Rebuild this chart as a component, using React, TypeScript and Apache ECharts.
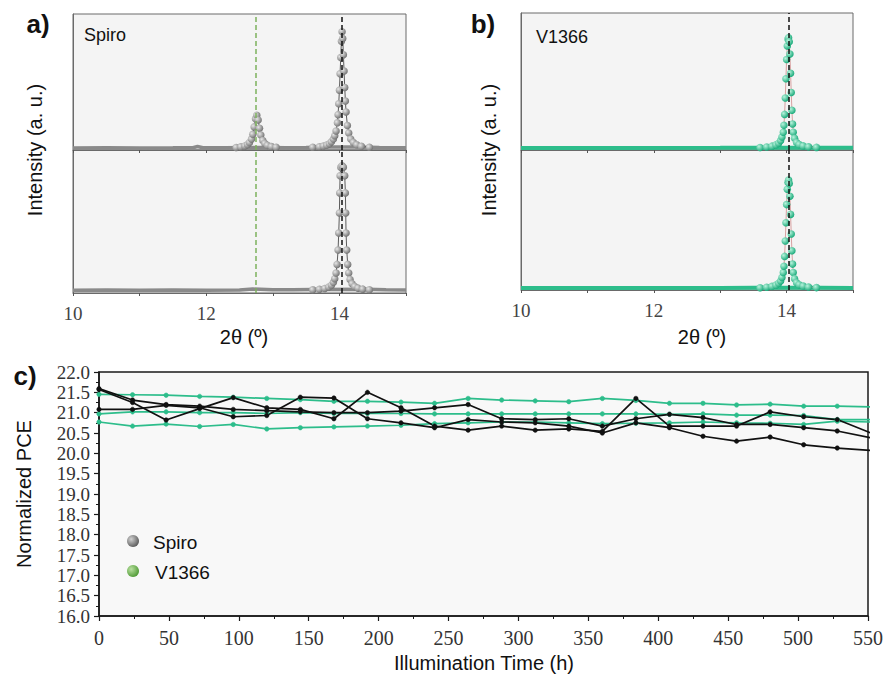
import React, { useEffect, useRef } from "react";
import * as echarts from "echarts";

// ---------- Panel c data ----------
const hours = [0, 24, 48, 72, 96, 120, 144, 168, 192, 216, 240, 264, 288, 312, 336, 360, 384, 408, 432, 456, 480, 504, 528, 552];
const spiro1 = [21.59, 21.31, 21.2, 21.16, 21.08, 21.05, 21.02, 21.0, 21.0, 21.04, 21.12, 21.2, 20.85, 20.83, 20.85, 20.67, 20.85, 20.96, 20.88, 20.71, 20.71, 20.63, 20.55, 20.38];
const spiro2 = [21.57, 21.25, 20.82, 21.1, 21.37, 21.12, 21.08, 20.85, 21.5, 21.12, 20.67, 20.57, 20.67, 20.57, 20.6, 20.54, 21.35, 20.67, 20.67, 20.67, 21.02, 20.9, 20.83, 20.5];
const spiro3 = [21.08, 21.08, 21.18, 21.12, 20.9, 20.93, 21.38, 21.36, 20.85, 20.75, 20.63, 20.83, 20.77, 20.75, 20.67, 20.5, 20.75, 20.63, 20.42, 20.3, 20.4, 20.21, 20.13, 20.07];
const v1 = [21.45, 21.44, 21.43, 21.4, 21.38, 21.35, 21.32, 21.28, 21.28, 21.26, 21.23, 21.35, 21.31, 21.29, 21.27, 21.35, 21.3, 21.23, 21.23, 21.19, 21.21, 21.16, 21.16, 21.14];
const v2 = [20.97, 21.02, 21.02, 21.0, 21.0, 20.98, 21.0, 20.98, 20.98, 20.98, 20.97, 20.97, 20.97, 20.97, 20.97, 20.97, 20.97, 20.96, 20.97, 20.94, 20.94, 20.93, 20.83, 20.83];
const v3 = [20.77, 20.67, 20.72, 20.66, 20.71, 20.6, 20.63, 20.65, 20.67, 20.69, 20.73, 20.75, 20.77, 20.77, 20.75, 20.73, 20.74, 20.75, 20.77, 20.75, 20.74, 20.71, 20.79, 20.77];

// ---------- XRD data (2θ, intensity a.u.) ----------
const aTopBaseX = [10, 10.5, 11, 11.5, 11.8, 11.87, 11.95, 12.3, 12.6, 12.9, 13.2, 13.5, 13.8, 14.3, 14.6, 15];
const aTopBaseY = [1.5, 1.6, 1.5, 1.6, 1.7, 2.6, 1.7, 1.6, 1.8, 1.8, 1.7, 1.8, 2.2, 2.2, 1.8, 1.7];
const aTopSmallX = [12.45, 12.52, 12.58, 12.62, 12.65, 12.68, 12.7, 12.72, 12.74, 12.76, 12.78, 12.8, 12.82, 12.85, 12.88, 12.92, 12.98, 13.05];
const aTopSmallY = [1.8, 2.3, 3, 4, 5.5, 8, 11.5, 17, 23, 25.5, 22, 16, 11, 7, 4.8, 3.4, 2.5, 2];
const aTopPeakX = [13.6, 13.7, 13.76, 13.81, 13.85, 13.88, 13.91, 13.93, 13.95, 13.97, 13.98, 13.99, 14.0, 14.01, 14.02, 14.03, 14.04, 14.05, 14.06, 14.07, 14.08, 14.09, 14.1, 14.12, 14.14, 14.17, 14.21, 14.26, 14.33, 14.45];
const aTopPeakY = [2, 2.4, 2.9, 3.6, 4.6, 6, 8, 10.5, 14, 20, 26, 34, 44, 56, 68, 80, 87, 82, 70, 58, 46, 36, 28, 18, 12.5, 8, 5.5, 3.8, 2.7, 2];
const aBotBaseX = [10, 10.5, 11, 11.5, 12, 12.5, 12.7, 13, 13.3, 13.6, 14.4, 14.7, 15];
const aBotBaseY = [2, 2.1, 2, 2.1, 2, 2.1, 2.8, 2.2, 2.3, 2.4, 2.6, 2.2, 2.1];
const aBotPeakX = [13.6, 13.7, 13.78, 13.84, 13.88, 13.91, 13.93, 13.95, 13.965, 13.98, 13.99, 14.0, 14.005, 14.01, 14.02, 14.04, 14.06, 14.08, 14.09, 14.095, 14.1, 14.11, 14.125, 14.14, 14.16, 14.19, 14.23, 14.28, 14.35, 14.45];
const aBotPeakY = [2.2, 2.6, 3.2, 4.2, 5.5, 7.5, 10, 14, 20, 30, 42, 56, 70, 82, 88, 89, 88, 82, 70, 56, 42, 30, 20, 14, 9.5, 6.5, 4.5, 3.4, 2.7, 2.3];
const bBaseX = [10, 11, 12, 13, 13.5, 14.5, 15];
const bTopBaseY = [1.5, 1.5, 1.5, 1.6, 1.7, 1.7, 1.6];
const bBotBaseY = [1.4, 1.4, 1.5, 1.5, 1.6, 1.6, 1.5];
const bPeakX = [13.6, 13.7, 13.78, 13.84, 13.88, 13.91, 13.93, 13.95, 13.96, 13.97, 13.98, 13.99, 14.0, 14.01, 14.02, 14.03, 14.04, 14.05, 14.06, 14.07, 14.08, 14.09, 14.1, 14.12, 14.15, 14.19, 14.25, 14.33, 14.45];
const bTopPeakY = [1.8, 2.2, 2.8, 3.8, 5, 7, 9.5, 13, 18, 26, 38, 52, 66, 76, 81, 82, 79, 70, 56, 42, 29, 19, 13, 8.5, 5.5, 4, 3, 2.3, 1.9];
const bBotPeakY = [1.6, 2.0, 2.6, 3.5, 4.8, 6.5, 9, 12.5, 17, 24, 35, 48, 61, 72, 77, 78.5, 76, 67, 54, 40, 28, 18.5, 12.5, 8, 5.2, 3.8, 2.8, 2.1, 1.7];

const spiroDash = 12.75;
const peakDashA = 14.04;
const peakDashB = 14.03;
const xrdTicks = ["10", "12", "14"];

const zip = (xs: number[], ys: number[]) => xs.map((x, i) => [x, ys[i]]);

const GRAY = "#8a8a8a";
const GREEN = "#2dbd8b";
const grayBall = {
  type: "radial", x: 0.35, y: 0.35, r: 0.7,
  colorStops: [{ offset: 0, color: "#e6e6e6" }, { offset: 1, color: "#6e6e6e" }],
};
const greenBall = {
  type: "radial", x: 0.35, y: 0.35, r: 0.7,
  colorStops: [{ offset: 0, color: "#b8f3dc" }, { offset: 1, color: "#14a877" }],
};
const legendGray = {
  type: "radial", x: 0.35, y: 0.35, r: 0.7,
  colorStops: [{ offset: 0, color: "#d0d0d0" }, { offset: 1, color: "#5a5a5a" }],
};
const legendGreen = {
  type: "radial", x: 0.35, y: 0.35, r: 0.7,
  colorStops: [{ offset: 0, color: "#b9e0a0" }, { offset: 1, color: "#4f9a35" }],
};

const sans = "Liberation Sans, Arial, sans-serif";
const serif = "Liberation Serif, DejaVu Serif, serif";

export default function App() {
  const ref = useRef<HTMLDivElement>(null);
  useEffect(() => {
    const chart = echarts.init(ref.current!, null, { renderer: "svg" });

    const xrdGrids = [
      { left: 73, top: 14, width: 333, height: 136 },
      { left: 73, top: 150, width: 333, height: 143 },
      { left: 521, top: 13, width: 332, height: 137 },
      { left: 521, top: 150, width: 332, height: 140 },
    ];
    const grids: any[] = xrdGrids.map((g) => ({
      ...g, show: true, backgroundColor: "#f4f4f4", borderColor: "#6a6a6a", borderWidth: 1,
    }));
    grids.push({ left: 99, top: 372, width: 769, height: 244, show: true, backgroundColor: "#f8f8f8", borderColor: "#1a1a1a", borderWidth: 1.5 });

    const xAxes: any[] = xrdGrids.map((_, i) => {
      const bottom = i === 1 || i === 3;
      return {
        type: "value", gridIndex: i, min: 10, max: 15, interval: 1,
        axisLine: { show: true, lineStyle: { color: "#6a6a6a", width: 1 } },
        axisTick: { show: true, inside: false, length: 3, lineStyle: { color: "#555" } },
        axisLabel: {
          show: bottom, margin: 11, color: "#444", fontFamily: serif, fontSize: 19,
          formatter: (v: number) => (xrdTicks.includes(String(v)) ? String(v) : ""),
        },
        splitLine: { show: false },
      };
    });
    xAxes.push({
      type: "value", gridIndex: 4, min: 0, max: 550, interval: 50,
      axisLine: { show: true, lineStyle: { color: "#1a1a1a", width: 1.5 } },
      axisTick: { show: true, length: 5, lineStyle: { color: "#1a1a1a", width: 1.2 } },
      minorTick: { show: true, splitNumber: 2, length: 3, lineStyle: { color: "#1a1a1a", width: 1 } },
      axisLabel: { margin: 12, color: "#333", fontFamily: serif, fontSize: 20, showMinLabel: true, showMaxLabel: true },
      splitLine: { show: false },
    });

    const yAxes: any[] = xrdGrids.map((_, i) => ({
      type: "value", gridIndex: i, min: 0, max: 100,
      axisLine: { show: true, lineStyle: { color: "#6a6a6a" } },
      axisTick: { show: false }, axisLabel: { show: false }, splitLine: { show: false },
    }));
    yAxes.push({
      type: "value", gridIndex: 4, min: 16, max: 22, interval: 0.5,
      axisLine: { show: true, lineStyle: { color: "#1a1a1a", width: 1.5 } },
      axisTick: { show: true, length: 5, lineStyle: { color: "#1a1a1a", width: 1.2 } },
      minorTick: { show: true, splitNumber: 2, length: 3, lineStyle: { color: "#1a1a1a", width: 1 } },
      axisLabel: {
        margin: 9, color: "#333", fontFamily: serif, fontSize: 19, lineHeight: 18,
        showMinLabel: true, showMaxLabel: true, formatter: (v: number) => v.toFixed(1),
      },
      splitLine: { show: false },
    });

    const dash = (x: number, color: string) => ({
      silent: true, symbol: ["none", "none"], label: { show: false },
      lineStyle: { type: [5, 3], color, width: 1.5 },
      data: [{ xAxis: x }],
    });

    const base = (idx: number, data: number[][], color: string, width: number) => ({
      type: "line", xAxisIndex: idx, yAxisIndex: idx, data, symbol: "none",
      lineStyle: { color, width }, z: 2,
    });
    const peak = (idx: number, data: number[][], ball: any, lineColor: string, marks: any[]) => ({
      type: "line", xAxisIndex: idx, yAxisIndex: idx, data, symbol: "circle", symbolSize: 7.5,
      itemStyle: { color: ball, borderWidth: 0 },
      lineStyle: { color: lineColor, width: 0.8 }, z: 3,
      markLine: marks.length ? marks[0] : undefined,
    });

    const series: any[] = [
      base(0, zip(aTopBaseX, aTopBaseY), GRAY, 3.5),
      peak(0, zip(aTopSmallX, aTopSmallY), grayBall, "#444", [dash(spiroDash, "#7cb15c")]),
      peak(0, zip(aTopPeakX, aTopPeakY), grayBall, "#333", [dash(peakDashA, "#111")]),
      base(1, zip(aBotBaseX, aBotBaseY), GRAY, 3.5),
      peak(1, zip(aBotPeakX, aBotPeakY), grayBall, "#333", [{ ...dash(spiroDash, "#7cb15c"), data: [{ xAxis: spiroDash }, { xAxis: peakDashA, lineStyle: { color: "#111", type: [5, 3], width: 1.5 } }] }]),
      base(2, zip(bBaseX, bTopBaseY), GREEN, 4),
      peak(2, zip(bPeakX, bTopPeakY), greenBall, "#d08a8a", [dash(peakDashB, "#111")]),
      base(3, zip(bBaseX, bBotBaseY), GREEN, 4),
      peak(3, zip(bPeakX, bBotPeakY), greenBall, "#d08a8a", [dash(peakDashB, "#111")]),
    ];

    const pce = (name: string, ys: number[], color: string) => ({
      name, type: "line", xAxisIndex: 4, yAxisIndex: 4,
      data: zip(hours, ys), symbol: "circle", symbolSize: 4.5,
      itemStyle: { color, borderColor: color, borderWidth: 0.5 },
      lineStyle: { color, width: 1.7 }, clip: true, z: 4,
    });
    series.push(
      pce("V1366", v1, GREEN), pce("V1366", v2, GREEN), pce("V1366", v3, GREEN),
      pce("Spiro", spiro1, "#111"), pce("Spiro", spiro2, "#111"), pce("Spiro", spiro3, "#111"),
    );

    const txt = (text: string, x: number, y: number, size: number, opts: any = {}) => ({
      type: "text", x, y, rotation: opts.rotation || 0,
      style: {
        text, fill: opts.fill || "#111", fontSize: size, fontFamily: opts.font || sans,
        fontWeight: opts.weight || "normal", align: opts.align || "center", verticalAlign: "middle",
      },
      z: 100,
    });

    const graphic: any[] = [
      txt("a)", 38, 24, 26, { weight: "bold" }),
      txt("b)", 483, 24, 26, { weight: "bold" }),
      txt("c)", 25, 376, 26, { weight: "bold" }),
      txt("Spiro", 84, 35, 18, { align: "left" }),
      txt("V1366", 536, 37, 18, { align: "left" }),
      txt("Intensity (a. u.)", 35, 150, 20, { rotation: Math.PI / 2 }),
      txt("Intensity (a. u.)", 489, 150, 20, { rotation: Math.PI / 2 }),
      txt("2θ (º)", 244, 337, 20),
      txt("2θ (º)", 702, 337, 20),
      txt("Normalized PCE", 24, 494, 20, { rotation: Math.PI / 2 }),
      txt("Illumination Time (h)", 484, 663, 20),
      { type: "circle", shape: { cx: 133, cy: 541, r: 6 }, style: { fill: legendGray }, z: 100 },
      { type: "circle", shape: { cx: 133, cy: 571, r: 6 }, style: { fill: legendGreen }, z: 100 },
      txt("Spiro", 153, 542, 19, { align: "left" }),
      txt("V1366", 155, 572, 19, { align: "left" }),
    ];

    chart.setOption({
      animation: false,
      backgroundColor: "#ffffff",
      grid: grids,
      xAxis: xAxes,
      yAxis: yAxes,
      series,
      graphic,
    });
    return () => chart.dispose();
  }, []);
  return <div ref={ref} style={{ position: "absolute", left: 0, top: 0, width: 887, height: 679 }} />;
}
